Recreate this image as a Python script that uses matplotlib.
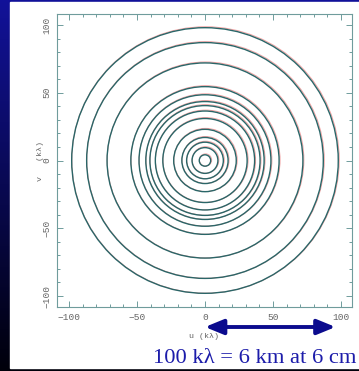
import numpy as np
import matplotlib
matplotlib.use("Agg")
import matplotlib.pyplot as plt
from matplotlib.patches import Circle, Rectangle
import matplotlib.transforms as mtransforms

# uv track radii (kilolambda)
radii = [4.2, 9.5, 13.5, 17.0, 23.0, 31.0, 36.5, 40.5, 43.5, 48.5, 54.5, 72.0, 87.0, 98.0]
ticks = [-100, -50, 0, 50, 100]
minor_ticks = list(range(-100, 101, 10))
scale_len = 96  # length of the scale arrow in kλ
caption = "100 k\u03bb = 6 km at 6 cm"

W, H = 359, 371
fig = plt.figure(figsize=(W / 100, H / 100), dpi=100)

# blue slide background
bg = fig.add_axes([0, 0, 1, 1])
grad = np.linspace(0, 1, 256).reshape(-1, 1)
top = np.array([0.07, 0.07, 0.60])
bot = np.array([0.0, 0.0, 0.04])
img = top[None, None, :] * (1 - grad[..., None]) + bot[None, None, :] * grad[..., None]
bg.imshow(img, aspect="auto", extent=[0, 1, 0, 1])
bg.add_patch(Rectangle((10 / W, 1 - 368 / H), 1, (368 - 2) / H, color="white"))
bg.set_xlim(0, 1)
bg.set_ylim(0, 1)
bg.axis("off")

ax = fig.add_axes([57 / W, 1 - 307 / H, 295 / W, 293 / H])
ax.set_xlim(-108.8, 108.1)
ax.set_ylim(-108.1, 108.1)

for r in radii:
    ax.add_patch(Circle((0.4, 0.4), r + 0.3, fill=False, ec="#f0a0a0", lw=0.7))
    ax.add_patch(Circle((0, 0), r, fill=False, ec="#2a6668", lw=1.0))

axis_col = "#6f9c9c"
for s in ax.spines.values():
    s.set_color(axis_col)
    s.set_linewidth(0.8)
ax.set_xticks(ticks)
ax.set_yticks(ticks)
ax.set_xticks(minor_ticks, minor=True)
ax.set_yticks(minor_ticks, minor=True)
ax.tick_params(which="both", direction="in", top=True, right=True, color=axis_col, width=0.7)
ax.tick_params(which="major", length=4)
ax.tick_params(which="minor", length=2)
ax.tick_params(labelsize=6.8, labelcolor="#666666", pad=4)
for lab in ax.get_xticklabels() + ax.get_yticklabels():
    lab.set_family("Liberation Mono")
for lab in ax.get_yticklabels():
    lab.set_rotation(90)
    lab.set_va("center")

fig.text(204 / W, 1 - 336 / H, "u (k\u03bb)", fontsize=6, color="#666666",
         family="Liberation Mono", ha="center", va="center")
fig.text(40 / W, 1 - 161 / H, "v   (k\u03bb)", fontsize=6, color="#666666",
         family="Liberation Mono", ha="center", va="center", rotation=90)

# scale arrow below the axes
trans = mtransforms.blended_transform_factory(ax.transData, fig.transFigure)
ay = 1 - 327 / H
ax.annotate("", xy=(scale_len, ay), xytext=(0, ay), xycoords=trans, textcoords=trans,
            annotation_clip=False,
            arrowprops=dict(arrowstyle="<|-|>,head_length=1.1,head_width=0.45",
                            mutation_scale=10, color="#0b0b8e", lw=2.8,
                            shrinkA=0, shrinkB=0))

fig.text(153 / W, 1 - 363 / H, caption, fontsize=16.2, color="#1c1caa",
         family="Liberation Serif", ha="left", va="baseline")

fig.savefig("out.png", dpi=100)
